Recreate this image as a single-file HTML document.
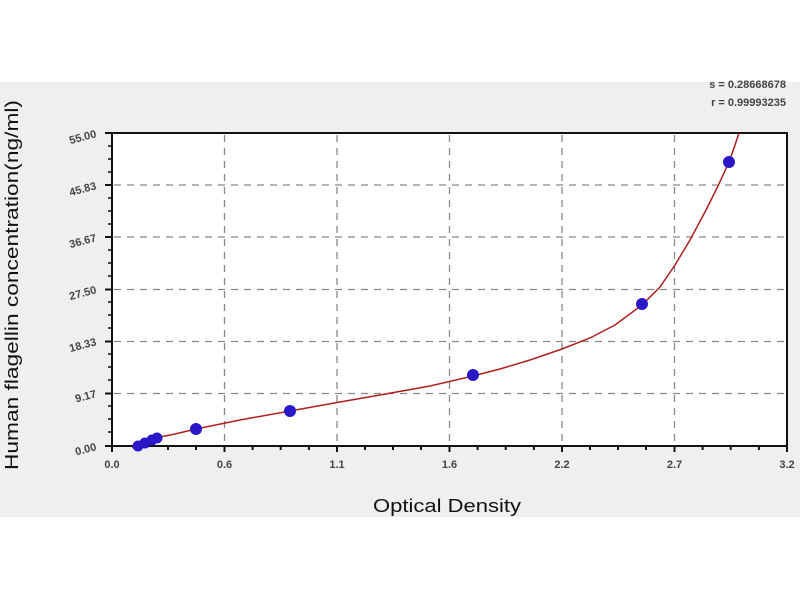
<!DOCTYPE html>
<html><head><meta charset="utf-8"><style>
html,body{margin:0;padding:0;background:#fff;}
svg{display:block;font-family:"Liberation Sans",sans-serif;}
</style></head><body>
<svg width="800" height="600" xmlns="http://www.w3.org/2000/svg">
<rect x="0" y="0" width="800" height="600" fill="#fff"/>
<rect x="0" y="82" width="800" height="435" fill="#efefef"/>
<rect x="112" y="133" width="675" height="313" fill="#fff" stroke="#111" stroke-width="2"/>
<g stroke="#888" stroke-width="1.3" stroke-dasharray="7,6">
<line x1="224.5" y1="135" x2="224.5" y2="445"/>
<line x1="337" y1="135" x2="337" y2="445"/>
<line x1="449.5" y1="135" x2="449.5" y2="445"/>
<line x1="562" y1="135" x2="562" y2="445"/>
<line x1="674.5" y1="135" x2="674.5" y2="445"/>
<line x1="114" y1="185" x2="786" y2="185"/>
<line x1="114" y1="237" x2="786" y2="237"/>
<line x1="114" y1="289.5" x2="786" y2="289.5"/>
<line x1="114" y1="341.5" x2="786" y2="341.5"/>
<line x1="114" y1="393.5" x2="786" y2="393.5"/>
</g>
<g stroke="#111" stroke-width="2">
<line x1="112" y1="446" x2="112" y2="452"/><line x1="224.5" y1="446" x2="224.5" y2="452"/><line x1="337" y1="446" x2="337" y2="452"/><line x1="449.5" y1="446" x2="449.5" y2="452"/><line x1="562" y1="446" x2="562" y2="452"/><line x1="674.5" y1="446" x2="674.5" y2="452"/><line x1="787" y1="446" x2="787" y2="452"/>
<line x1="140" y1="446" x2="140" y2="450"/><line x1="168" y1="446" x2="168" y2="450"/><line x1="196" y1="446" x2="196" y2="450"/>
<line x1="252.6" y1="446" x2="252.6" y2="450"/><line x1="280.7" y1="446" x2="280.7" y2="450"/><line x1="308.9" y1="446" x2="308.9" y2="450"/>
<line x1="365" y1="446" x2="365" y2="450"/><line x1="393" y1="446" x2="393" y2="450"/><line x1="421" y1="446" x2="421" y2="450"/>
<line x1="477.6" y1="446" x2="477.6" y2="450"/><line x1="505.7" y1="446" x2="505.7" y2="450"/><line x1="533.9" y1="446" x2="533.9" y2="450"/>
<line x1="590" y1="446" x2="590" y2="450"/><line x1="618" y1="446" x2="618" y2="450"/><line x1="646" y1="446" x2="646" y2="450"/>
<line x1="702.6" y1="446" x2="702.6" y2="450"/><line x1="730.7" y1="446" x2="730.7" y2="450"/><line x1="758.9" y1="446" x2="758.9" y2="450"/>
<line x1="105" y1="133" x2="112" y2="133"/><line x1="105" y1="185" x2="112" y2="185"/><line x1="105" y1="237" x2="112" y2="237"/><line x1="105" y1="289.5" x2="112" y2="289.5"/><line x1="105" y1="341.5" x2="112" y2="341.5"/><line x1="105" y1="393.5" x2="112" y2="393.5"/><line x1="105" y1="446" x2="112" y2="446"/>
</g>
<g stroke="#111" stroke-width="1.5" id="minor">
<line x1="108" y1="146" x2="112" y2="146"/><line x1="108" y1="159" x2="112" y2="159"/><line x1="108" y1="172" x2="112" y2="172"/>
<line x1="108" y1="198" x2="112" y2="198"/><line x1="108" y1="211" x2="112" y2="211"/><line x1="108" y1="224" x2="112" y2="224"/>
<line x1="108" y1="250" x2="112" y2="250"/><line x1="108" y1="263" x2="112" y2="263"/><line x1="108" y1="276" x2="112" y2="276"/>
<line x1="108" y1="302" x2="112" y2="302"/><line x1="108" y1="315" x2="112" y2="315"/><line x1="108" y1="328" x2="112" y2="328"/>
<line x1="108" y1="354" x2="112" y2="354"/><line x1="108" y1="367" x2="112" y2="367"/><line x1="108" y1="380" x2="112" y2="380"/>
<line x1="108" y1="406" x2="112" y2="406"/><line x1="108" y1="419" x2="112" y2="419"/><line x1="108" y1="432" x2="112" y2="432"/>
</g>
<path d="M132,447.5 L138,446 L145,443 L152,440 L160,437 L175,434 L196,429 L240,420 L290,411 L340,402 L380,395 L430,386 L473,376 L500,369 L530,360 L562,349 L590,338 L615,325 L642,305 L660,287 L675,265 L690,240 L705,212 L718,186 L729,162 L734,148 L739,133" fill="none" stroke="#b02020" stroke-width="1.5"/>
<g fill="#2a18c8">
<circle cx="138" cy="446" r="5.5"/><circle cx="145" cy="443" r="5.5"/><circle cx="152" cy="440" r="5.5"/><circle cx="157" cy="438" r="5.5"/>
<circle cx="196" cy="429" r="6"/><circle cx="290" cy="411" r="6"/><circle cx="473" cy="375" r="6"/><circle cx="642" cy="304" r="6"/><circle cx="729" cy="162" r="6"/>
</g>
<g font-size="11" font-weight="bold" fill="#444" text-anchor="end">
<text transform="translate(97,137) rotate(-15)">55.00</text>
<text transform="translate(97,189) rotate(-15)">45.83</text>
<text transform="translate(97,241) rotate(-15)">36.67</text>
<text transform="translate(97,293) rotate(-15)">27.50</text>
<text transform="translate(97,345) rotate(-15)">18.33</text>
<text transform="translate(97,397) rotate(-15)">9.17</text>
<text transform="translate(97,450) rotate(-15)">0.00</text>
</g>
<g font-size="11" font-weight="bold" fill="#444" text-anchor="middle">
<text x="112" y="468">0.0</text><text x="224.5" y="468">0.6</text><text x="337" y="468">1.1</text><text x="449.5" y="468">1.6</text><text x="562" y="468">2.2</text><text x="674.5" y="468">2.7</text><text x="787" y="468">3.2</text>
</g>
<g font-size="11" font-weight="bold" fill="#444" text-anchor="end">
<text x="786" y="88">s = 0.28668678</text>
<text x="786" y="106">r = 0.99993235</text>
</g>
<text x="447" y="512" font-size="18" fill="#111" text-anchor="middle" textLength="148" lengthAdjust="spacingAndGlyphs">Optical Density</text>
<text transform="translate(18,285) rotate(-90)" font-size="18" fill="#111" text-anchor="middle" textLength="370" lengthAdjust="spacingAndGlyphs">Human flagellin concentration(ng/ml)</text>
</svg>
</body></html>
